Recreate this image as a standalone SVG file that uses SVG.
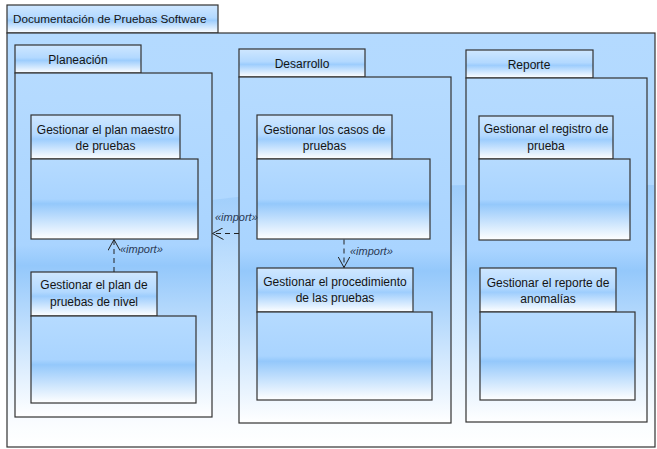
<svg xmlns="http://www.w3.org/2000/svg" width="657" height="449" viewBox="0 0 657 449">
  <defs>
    <linearGradient id="frameFill" x1="0" y1="0" x2="0" y2="1">
      <stop offset="0" stop-color="#b4daff"/>
      <stop offset="0.42" stop-color="#b0d8ff"/>
      <stop offset="0.75" stop-color="#d2eaff"/>
      <stop offset="1" stop-color="#ffffff"/>
    </linearGradient>
    <linearGradient id="bodyFill" x1="0" y1="0" x2="0" y2="1">
      <stop offset="0" stop-color="#b6dbff"/>
      <stop offset="0.5" stop-color="#a9d4ff"/>
      <stop offset="0.56" stop-color="#94c8fb"/>
      <stop offset="1" stop-color="#ffffff"/>
    </linearGradient>
    <linearGradient id="tabFill" x1="0" y1="0" x2="0" y2="1">
      <stop offset="0" stop-color="#cfe7ff"/>
      <stop offset="0.45" stop-color="#b3d9ff"/>
      <stop offset="0.55" stop-color="#9dcdfd"/>
      <stop offset="1" stop-color="#ffffff"/>
    </linearGradient>
    <linearGradient id="glossFill" x1="0" y1="0" x2="0" y2="1">
      <stop offset="0" stop-color="#8fc4f8" stop-opacity="0.6"/>
      <stop offset="0.7" stop-color="#ffffff" stop-opacity="0.2"/>
      <stop offset="1" stop-color="#ffffff" stop-opacity="0.6"/>
    </linearGradient>
    <marker id="openArrow" viewBox="0 0 12 12" refX="11" refY="6" markerWidth="12" markerHeight="12" markerUnits="userSpaceOnUse" orient="auto">
      <path d="M0,0 L11,6 L0,12" fill="none" stroke="#222" stroke-width="1"/>
    </marker>
  </defs>
  <style>
    .frame { fill: url(#frameFill); stroke: #333; stroke-width: 1.2; }
    .body { fill: url(#bodyFill); stroke: #333; stroke-width: 1.2; }
    .tab { fill: url(#tabFill); stroke: #333; stroke-width: 1.2; }
    .label { font-family: "Liberation Sans", Arial, sans-serif; font-size: 12px; fill: #141414; text-anchor: middle; }
    .title { font-family: "Liberation Sans", Arial, sans-serif; font-size: 11.7px; fill: #141414; }
    .stereo { font-family: "Liberation Sans", Arial, sans-serif; font-size: 11px; font-style: italic; fill: #2a3a55; }
    .dep { fill: none; stroke: #222; stroke-width: 1; stroke-dasharray: 5 4; marker-end: url(#openArrow); }
  </style>

  <!-- outer package -->
  <g id="documentacion">
    <rect class="tab" x="7" y="5" width="211" height="28"/>
    <rect class="frame" x="7" y="33" width="648" height="414"/>
    <path d="M8,250 C120,200 300,180 654,185 L654,446 L8,446 Z" fill="url(#glossFill)"/>
    <text class="title" x="13" y="23">Documentación de Pruebas Software</text>
  </g>

  <!-- Planeación -->
  <g id="planeacion">
    <rect class="tab" x="15" y="45" width="126" height="28"/>
    <rect class="body" x="15" y="73" width="197" height="344"/>
    <text class="label" x="78" y="64">Planeación</text>
  </g>
  <g id="plan-maestro">
    <rect class="tab" x="31" y="115" width="149" height="44"/>
    <rect class="body" x="31" y="159" width="167" height="80"/>
    <text class="label" x="105.5" y="134">Gestionar el plan maestro</text>
    <text class="label" x="105.5" y="150">de pruebas</text>
  </g>
  <g id="plan-nivel">
    <rect class="tab" x="31" y="272" width="126" height="44"/>
    <rect class="body" x="31" y="316" width="165" height="87"/>
    <text class="label" x="94" y="289">Gestionar el plan de</text>
    <text class="label" x="94" y="306">pruebas de nivel</text>
  </g>

  <!-- Desarrollo -->
  <g id="desarrollo">
    <rect class="tab" x="239" y="49" width="126" height="28"/>
    <rect class="body" x="239" y="77" width="212" height="346"/>
    <text class="label" x="302" y="68">Desarrollo</text>
  </g>
  <g id="casos-pruebas">
    <rect class="tab" x="257" y="115" width="135" height="44"/>
    <rect class="body" x="257" y="159" width="173" height="80"/>
    <text class="label" x="324.5" y="134">Gestionar los casos de</text>
    <text class="label" x="324.5" y="150">pruebas</text>
  </g>
  <g id="procedimiento">
    <rect class="tab" x="257" y="268" width="156" height="44"/>
    <rect class="body" x="257" y="312" width="175" height="88"/>
    <text class="label" x="335" y="286">Gestionar el procedimiento</text>
    <text class="label" x="335" y="302">de las pruebas</text>
  </g>

  <!-- Reporte -->
  <g id="reporte">
    <rect class="tab" x="466" y="50" width="127" height="28"/>
    <rect class="body" x="466" y="78" width="181" height="344"/>
    <text class="label" x="529" y="69">Reporte</text>
  </g>
  <g id="registro-prueba">
    <rect class="tab" x="479" y="116" width="134" height="43"/>
    <rect class="body" x="479" y="159" width="151" height="81"/>
    <text class="label" x="546" y="133">Gestionar el registro de</text>
    <text class="label" x="546" y="150">prueba</text>
  </g>
  <g id="reporte-anomalias">
    <rect class="tab" x="480" y="268" width="136" height="44"/>
    <rect class="body" x="480" y="312" width="155" height="88"/>
    <text class="label" x="548" y="287">Gestionar el reporte de</text>
    <text class="label" x="548" y="303">anomalías</text>
  </g>

  <!-- import dependencies -->
  <g id="connectors">
    <path class="dep" d="M114,272 L114,239.5"/>
    <text class="stereo" x="120" y="253">«import»</text>
    <path class="dep" d="M239,233.5 L212.5,233.5"/>
    <text class="stereo" x="215" y="221">«import»</text>
    <path class="dep" d="M344,239.5 L344,267.5"/>
    <text class="stereo" x="350" y="255">«import»</text>
  </g>
</svg>
